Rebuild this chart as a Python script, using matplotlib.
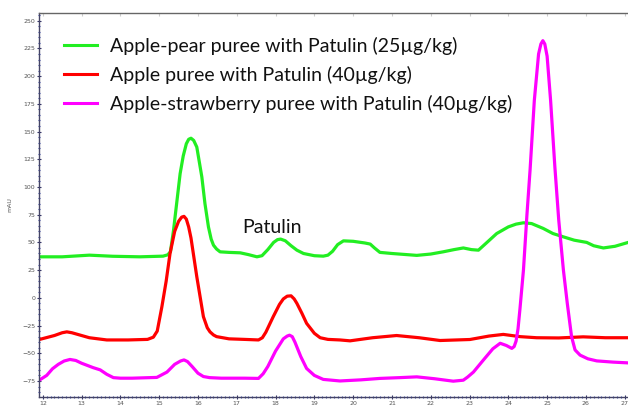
import matplotlib
matplotlib.use("Agg")
import matplotlib.pyplot as plt
from matplotlib.ticker import MultipleLocator

# ---- data (retention time in min, signal in mAU) ----
green_t = [11.91, 12.5, 13.2, 13.8, 14.5, 15.1, 15.22, 15.29, 15.37, 15.45, 15.54, 15.62,
           15.7, 15.76, 15.82, 15.89, 15.97, 16.1, 16.18, 16.27, 16.34, 16.4, 16.48, 16.57,
           16.8, 17.09, 17.3, 17.52, 17.65, 17.8, 17.95, 18.05, 18.13, 18.25, 18.4, 18.55,
           18.72, 19.0, 19.23, 19.35, 19.47, 19.6, 19.75, 20.0, 20.3, 20.44, 20.55, 20.69,
           21.0, 21.64, 22.0, 22.32, 22.6, 22.84, 23.05, 23.23, 23.45, 23.7, 24.0, 24.2,
           24.39, 24.6, 24.9, 25.15, 25.42, 25.7, 26.02, 26.2, 26.45, 26.75, 27.09]
green_v = [37, 37, 38.5, 37.5, 37, 37.6, 38.8, 41.5, 61, 85, 112, 128,
           139, 143, 144, 142, 136, 109, 85, 64, 53, 47.5, 44, 41.5,
           41, 40.6, 39, 37, 38, 43.5, 50, 52.5, 53, 51.5, 47, 43,
           40, 38, 37.6, 38.5, 42, 48, 51.4, 51, 49.5, 48.5, 45, 41,
           40, 38.3, 39.5, 41.5, 43.5, 45, 43.5, 43, 50, 58, 64, 66.5,
           67.7, 67, 62.6, 58, 55, 52, 50, 47, 45, 46.5, 50]

red_t = [11.91, 12.3, 12.5, 12.62, 12.75, 12.9, 13.2, 13.65, 14.2, 14.7, 14.85, 14.95,
         15.07, 15.18, 15.28, 15.4, 15.5, 15.58, 15.64, 15.7, 15.76, 15.82, 15.97, 16.14,
         16.24, 16.31, 16.4, 16.48, 16.8, 17.2, 17.56, 17.66, 17.75, 17.94, 18.1, 18.2,
         18.3, 18.4, 18.48, 18.55, 18.68, 18.8, 19.0, 19.15, 19.35, 19.66, 19.92, 20.5,
         21.12, 21.7, 22.24, 23.01, 23.5, 23.87, 24.3, 24.73, 25.3, 25.93, 26.5, 27.09]
red_v = [-37.6, -34, -31.5, -30.7, -31.5, -33, -36, -38, -38, -37.5, -35.5, -30,
         -8, 15, 40, 60, 69, 72.8, 73.5, 71, 64, 54, 19, -17,
         -27, -30.7, -33.5, -35, -37, -37.5, -38, -36, -31, -17, -6, -1,
         1.5, 1.8, -1, -5, -14, -23, -32, -36, -37.5, -38, -38.8, -36,
         -34, -36, -38.5, -37.6, -34.5, -33, -35, -36, -36.2, -35.2, -36, -36]

mag_t = [11.91, 12.1, 12.25, 12.4, 12.55, 12.7, 12.85, 13.0, 13.3, 13.48, 13.65, 13.82,
         14.0, 14.3, 14.94, 15.2, 15.4, 15.55, 15.64, 15.73, 15.85, 16.0, 16.14, 16.3,
         16.6, 17.2, 17.56, 17.68, 17.8, 18.0, 18.2, 18.3, 18.36, 18.43, 18.5, 18.65,
         18.8, 19.0, 19.23, 19.66, 20.2, 20.69, 21.2, 21.64, 22.1, 22.58, 22.84, 22.95,
         23.1, 23.36, 23.6, 23.79, 23.95, 24.09, 24.15, 24.2, 24.25, 24.3, 24.39, 24.48,
         24.56, 24.67, 24.78, 24.84, 24.89, 24.94, 25.0, 25.09, 25.2, 25.3, 25.42, 25.52,
         25.63, 25.72, 25.85, 26.05, 26.28, 26.7, 27.09]
mag_v = [-74.3, -70, -64, -60, -57, -55.6, -56.5, -59, -63, -65, -69, -72,
         -72.5, -72.5, -71.8, -67, -60, -57, -56, -57.5, -62, -68, -71, -72,
         -72.5, -72.5, -72.7, -68.5, -62, -48, -37, -34.5, -33.7, -35, -40, -53,
         -63.7, -70, -73.6, -75, -74, -72.7, -72, -71.3, -73, -75.2, -74.3, -71.5,
         -67, -56, -46, -41, -43, -45.6, -44, -39, -28, -10, 25, 75,
         115, 178, 220, 229, 232, 229, 218, 178, 118, 70, 25, -5,
         -35, -47, -51.7, -55, -56.9, -58, -58.7]

labels = ["Apple-pear puree with Patulin (25µg/kg)",
          "Apple puree with Patulin (40µg/kg)",
          "Apple-strawberry puree with Patulin (40µg/kg)"]
x_ticks = list(range(12, 28))
y_ticks = list(range(-75, 251, 25))

# ---- figure ----
W, H = 628, 409
fig = plt.figure(figsize=(W / 100, H / 100), dpi=100)
ax_left, ax_top, ax_bot = 39.3, 13.3, 396.7
ax = fig.add_axes([ax_left / W, 1 - ax_bot / H, 1 - ax_left / W, (ax_bot - ax_top) / H])

lw = 2.3
ax.plot(green_t, green_v, color="#22ee22", lw=lw, label=labels[0], solid_joinstyle="round")
ax.plot(red_t, red_v, color="#ff0000", lw=lw, label=labels[1], solid_joinstyle="round")
ax.plot(mag_t, mag_v, color="#ff00ff", lw=lw, label=labels[2], solid_joinstyle="round")

ax.set_xlim(11.91, 27.085)
ax.set_ylim(-89.2, 256.7)

ax.set_xticks(x_ticks)
ax.set_yticks(y_ticks)
ax.xaxis.set_minor_locator(MultipleLocator(0.1))
ax.yaxis.set_minor_locator(MultipleLocator(5))
ax.tick_params(axis="both", which="major", labelsize=4.5, labelcolor="#555555",
               color="#333366", length=3, width=0.8, direction="inout", pad=1.5)
ax.tick_params(axis="both", which="minor", color="#3344aa", length=2, width=0.8,
               direction="inout")
ax.tick_params(top=False, right=False)
for s in ["left", "bottom"]:
    ax.spines[s].set_color("#444466")
    ax.spines[s].set_linewidth(1.0)
ax.spines["top"].set_color("#666666")
ax.spines["top"].set_linewidth(1.0)
ax.spines["right"].set_visible(False)

sec = ax.secondary_xaxis("top")
sec.set_xticks(x_ticks)
sec.tick_params(direction="in", length=2, color="#cccccc", labeltop=False)
sec.spines["top"].set_visible(False)

ax.set_ylabel("mAU", fontsize=4.5, color="#555555")
ax.yaxis.set_label_coords(-27 / (W - ax_left), 0.5)

font = "Lato"
fs = 14.0
aw = W - ax_left
ah = ax_bot - ax_top
leg = ax.legend(loc="upper left",
                bbox_to_anchor=((64 - ax_left) / aw, 1 - (37 - ax_top) / ah),
                frameon=False, borderpad=0, borderaxespad=0,
                handlelength=1.7, handletextpad=0.67, labelspacing=0.55,
                prop={"family": font, "size": fs})
for line in leg.get_lines():
    line.set_linewidth(2.2)
for t in leg.get_texts():
    t.set_color("#111111")

ax.text(17.13, 63.8, "Patulin", fontsize=fs, family=font, color="#111111",
        ha="left", va="center")

fig.savefig("out.png", dpi=100)
